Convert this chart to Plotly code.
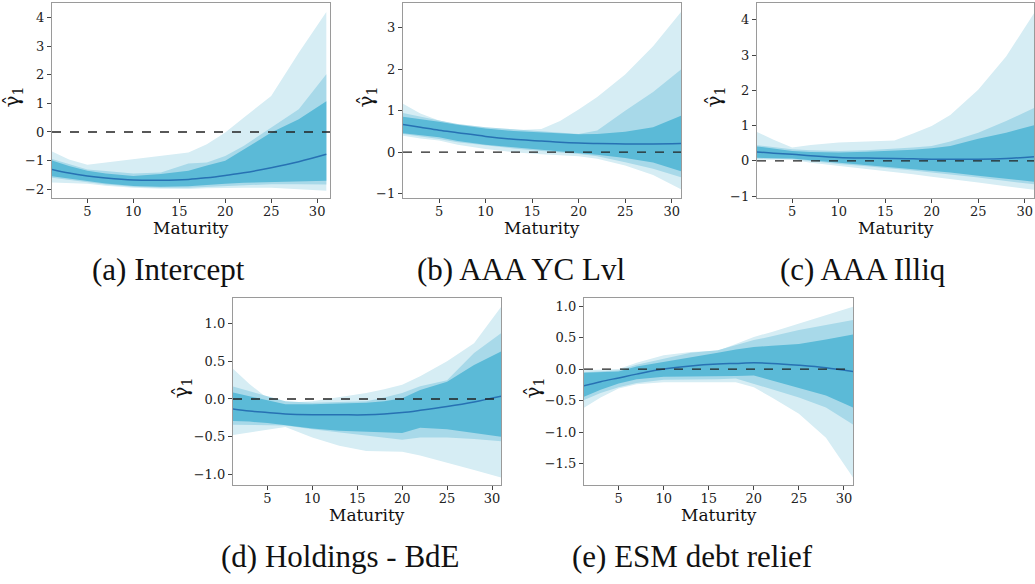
import plotly.graph_objects as go

maturity = [1, 3, 5, 7, 10, 13, 16, 18, 20, 22, 25, 28, 31]

titles = ["(a) Intercept", "(b) AAA YC Lvl", "(c) AAA Illiq",
          "(d) Holdings - BdE", "(e) ESM debt relief"]

# (a) Intercept
a_median = [-1.30, -1.44, -1.54, -1.61, -1.68, -1.69, -1.66, -1.60, -1.52, -1.43, -1.25, -1.04, -0.78]
a_dark_hi = [-0.98, -1.19, -1.36, -1.45, -1.54, -1.47, -1.36, -1.17, -1.01, -0.61, -0.02, 0.45, 1.08]
a_dark_lo = [-1.54, -1.63, -1.71, -1.80, -1.89, -1.92, -1.90, -1.85, -1.81, -1.78, -1.75, -1.73, -1.71]
a_med_hi = [-0.93, -1.13, -1.31, -1.37, -1.45, -1.42, -1.10, -1.07, -0.84, -0.49, 0.15, 0.80, 2.02]
a_med_lo = [-1.60, -1.68, -1.75, -1.84, -1.92, -1.95, -1.95, -1.92, -1.89, -1.86, -1.83, -1.83, -1.84]
a_light_hi = [-0.66, -0.96, -1.15, -1.07, -0.95, -0.84, -0.72, -0.43, -0.02, 0.50, 1.26, 2.78, 4.20]
a_light_lo = [-1.77, -1.79, -1.81, -1.88, -1.95, -1.99, -2.00, -1.97, -1.95, -1.95, -1.95, -2.00, -2.06]

# (b) AAA YC Lvl
b_median = [0.67, 0.60, 0.53, 0.47, 0.38, 0.31, 0.27, 0.24, 0.22, 0.21, 0.20, 0.20, 0.21]
b_dark_hi = [0.86, 0.80, 0.73, 0.66, 0.57, 0.51, 0.47, 0.45, 0.43, 0.44, 0.49, 0.60, 0.88]
b_dark_lo = [0.46, 0.41, 0.36, 0.27, 0.18, 0.12, 0.06, 0.02, -0.02, -0.06, -0.14, -0.25, -0.46]
b_med_hi = [0.95, 0.85, 0.76, 0.68, 0.60, 0.55, 0.50, 0.47, 0.44, 0.52, 1.00, 1.45, 1.99]
b_med_lo = [0.44, 0.38, 0.32, 0.24, 0.16, 0.09, 0.03, 0.00, -0.04, -0.10, -0.24, -0.40, -0.60]
b_light_hi = [1.18, 0.93, 0.76, 0.66, 0.58, 0.53, 0.56, 0.75, 1.03, 1.33, 1.87, 2.55, 3.37]
b_light_lo = [0.40, 0.33, 0.28, 0.18, 0.08, 0.00, -0.05, -0.07, -0.10, -0.16, -0.32, -0.55, -0.89]

# (c) AAA Illiq
c_median = [0.26, 0.22, 0.19, 0.15, 0.10, 0.08, 0.07, 0.06, 0.05, 0.05, 0.05, 0.07, 0.12]
c_dark_hi = [0.42, 0.34, 0.28, 0.25, 0.24, 0.26, 0.29, 0.32, 0.36, 0.42, 0.63, 0.80, 1.01]
c_dark_lo = [0.09, 0.08, 0.07, 0.02, -0.05, -0.12, -0.19, -0.24, -0.28, -0.33, -0.42, -0.51, -0.59]
c_med_hi = [0.45, 0.38, 0.33, 0.30, 0.28, 0.30, 0.34, 0.38, 0.42, 0.55, 0.80, 1.13, 1.50]
c_med_lo = [0.07, 0.06, 0.05, 0.00, -0.09, -0.15, -0.21, -0.27, -0.33, -0.38, -0.47, -0.57, -0.66]
c_light_hi = [0.85, 0.60, 0.38, 0.45, 0.52, 0.56, 0.58, 0.78, 0.99, 1.30, 2.02, 2.96, 4.19]
c_light_lo = [0.03, 0.03, 0.03, -0.05, -0.14, -0.22, -0.30, -0.38, -0.45, -0.51, -0.61, -0.72, -0.82]

# (d) Holdings - BdE
d_median = [-0.13, -0.16, -0.18, -0.20, -0.21, -0.21, -0.21, -0.20, -0.18, -0.15, -0.10, -0.04, 0.035]
d_dark_hi = [0.09, 0.04, -0.01, -0.07, -0.07, -0.06, -0.05, -0.03, 0.01, 0.12, 0.23, 0.45, 0.63]
d_dark_lo = [-0.29, -0.30, -0.32, -0.35, -0.39, -0.42, -0.43, -0.44, -0.45, -0.38, -0.40, -0.45, -0.50]
d_med_hi = [0.17, 0.10, 0.04, -0.03, -0.05, -0.04, -0.03, 0.02, 0.08, 0.17, 0.25, 0.61, 0.87]
d_med_lo = [-0.34, -0.34, -0.34, -0.35, -0.40, -0.44, -0.48, -0.51, -0.54, -0.51, -0.51, -0.53, -0.56]
d_light_hi = [0.42, 0.20, 0.01, -0.05, -0.03, 0.02, 0.08, 0.13, 0.19, 0.30, 0.50, 0.74, 1.22]
d_light_lo = [-0.48, -0.44, -0.40, -0.37, -0.51, -0.62, -0.69, -0.69, -0.70, -0.75, -0.84, -0.94, -1.04]

# (e) ESM debt relief
e_median = [-0.27, -0.20, -0.14, -0.08, 0.00, 0.05, 0.08, 0.09, 0.10, 0.09, 0.06, 0.02, -0.04]
e_dark_hi = [-0.06, -0.05, -0.04, 0.04, 0.11, 0.19, 0.26, 0.31, 0.35, 0.37, 0.40, 0.47, 0.55]
e_dark_lo = [-0.45, -0.33, -0.23, -0.16, -0.12, -0.12, -0.12, -0.11, -0.10, -0.18, -0.29, -0.42, -0.61]
e_med_hi = [-0.05, -0.04, -0.02, 0.07, 0.16, 0.26, 0.30, 0.38, 0.46, 0.52, 0.62, 0.70, 0.78]
e_med_lo = [-0.50, -0.38, -0.29, -0.22, -0.17, -0.17, -0.16, -0.15, -0.23, -0.32, -0.45, -0.61, -0.88]
e_light_hi = [-0.02, -0.01, 0.00, 0.10, 0.22, 0.27, 0.29, 0.40, 0.51, 0.59, 0.72, 0.86, 0.99]
e_light_lo = [-0.63, -0.45, -0.31, -0.24, -0.21, -0.21, -0.21, -0.21, -0.29, -0.45, -0.71, -1.09, -1.72]

panels = [
    dict(median=a_median, bands=[(a_light_lo, a_light_hi), (a_med_lo, a_med_hi), (a_dark_lo, a_dark_hi)],
         xdom=[52, 330], ydom=[3, 200], yrange=[-2.31, 4.52], ytick=[-2, -1, 0, 1, 2, 3, 4],
         xrange=[1.15, 31.4], ylab=-39),
    dict(median=b_median, bands=[(b_light_lo, b_light_hi), (b_med_lo, b_med_hi), (b_dark_lo, b_dark_hi)],
         xdom=[403, 681], ydom=[3, 200], yrange=[-1.1, 3.59], ytick=[-1, 0, 1, 2, 3],
         xrange=[1.13, 31.0], ylab=-36),
    dict(median=c_median, bands=[(c_light_lo, c_light_hi), (c_med_lo, c_med_hi), (c_dark_lo, c_dark_hi)],
         xdom=[757, 1034], ydom=[3, 200], yrange=[-1.05, 4.48], ytick=[-1, 0, 1, 2, 3, 4],
         xrange=[1.22, 31.0], ylab=-42),
    dict(median=d_median, bands=[(d_light_lo, d_light_hi), (d_med_lo, d_med_hi), (d_dark_lo, d_dark_hi)],
         xdom=[233, 501], ydom=[301, 490], yrange=[-1.14, 1.34], ytick=[-1.0, -0.5, 0.0, 0.5, 1.0],
         xrange=[1.17, 31.0], ylab=-51),
    dict(median=e_median, bands=[(e_light_lo, e_light_hi), (e_med_lo, e_med_hi), (e_dark_lo, e_dark_hi)],
         xdom=[584, 853], ydom=[301, 490], yrange=[-1.84, 1.13], ytick=[-1.5, -1.0, -0.5, 0.0, 0.5, 1.0],
         xrange=[1.16, 31.0], ylab=-50),
]

W, H = 1035, 584


def px(x):
    return x / W


def py(y):
    return 1 - y / H


band_colors = ["#d6edf4", "#a8d9e9", "#5bbad7"]
line_color = "#2771b3"
frame = "#9a9a9a"
tickfont = dict(family="DejaVu Serif", size=13, color="#222")

fig = go.Figure()
annotations = []

for i, p in enumerate(panels):
    k = "" if i == 0 else str(i + 1)
    xa, ya = "x" + k, "y" + k
    for (lo, hi), col in zip(p["bands"], band_colors):
        fig.add_trace(go.Scatter(x=maturity, y=lo, mode="lines", line=dict(width=0, color=col),
                                 xaxis=xa, yaxis=ya, showlegend=False, hoverinfo="skip"))
        fig.add_trace(go.Scatter(x=maturity, y=hi, mode="lines", line=dict(width=0, color=col),
                                 fill="tonexty", fillcolor=col,
                                 xaxis=xa, yaxis=ya, showlegend=False, hoverinfo="skip"))
    fig.add_trace(go.Scatter(x=maturity, y=p["median"], mode="lines",
                             line=dict(width=1.5, color=line_color, shape="spline"),
                             xaxis=xa, yaxis=ya, showlegend=False))
    fig.add_trace(go.Scatter(x=[p["xrange"][0], p["xrange"][1]], y=[0, 0], mode="lines",
                             line=dict(width=1.3, color="#222", dash="dash"),
                             xaxis=xa, yaxis=ya, showlegend=False))

    x0, x1 = p["xdom"]
    y0, y1 = p["ydom"]
    axcommon = dict(showgrid=False, zeroline=False, showline=True, mirror=True,
                    linecolor=frame, linewidth=1.3, ticks="outside", ticklen=4,
                    tickcolor="#444", tickfont=tickfont)
    fig.update_layout(**{
        "xaxis" + k: dict(domain=[px(x0), px(x1)], range=p["xrange"], anchor=ya,
                          tickvals=[5, 10, 15, 20, 25, 30], ticklabelstandoff=-3, **axcommon),
        "yaxis" + k: dict(domain=[py(y1), py(y0)], range=p["yrange"], anchor=xa,
                          tickvals=p["ytick"],
                          tickformat=".1f" if i >= 3 else "d", **axcommon),
    })
    cx = (x0 + x1) / 2
    annotations.append(dict(text="Maturity", x=px(cx), y=py(y1 + 30), xref="paper", yref="paper",
                            xanchor="center", yanchor="middle",
                            showarrow=False, font=dict(family="DejaVu Serif", size=17, color="#111")))
    annotations.append(dict(text="γ\u0302<sub>1</sub>", x=px(x0 + p["ylab"]), y=py((y0 + y1) / 2 - 3),
                            xref="paper", yref="paper", textangle=-90, showarrow=False,
                            xanchor="center", yanchor="middle",
                            font=dict(family="DejaVu Serif", size=20, color="#111")))

cap_pos = [(168, 272), (521, 272), (862, 272), (340, 562), (692, 562)]
for t, (cx, cy) in zip(titles, cap_pos):
    annotations.append(dict(text=t, x=px(cx), y=py(cy), xref="paper", yref="paper",
                            xanchor="center", yanchor="middle",
                            showarrow=False, font=dict(family="Liberation Serif", size=31, color="#111")))

fig.update_layout(width=W, height=H, margin=dict(l=0, r=0, t=0, b=0),
                  plot_bgcolor="white", paper_bgcolor="white", annotations=annotations)

fig.write_html("out.html", config={"displayModeBar": False},
               post_script="document.body.style.margin='0';document.body.style.overflow='hidden';")
